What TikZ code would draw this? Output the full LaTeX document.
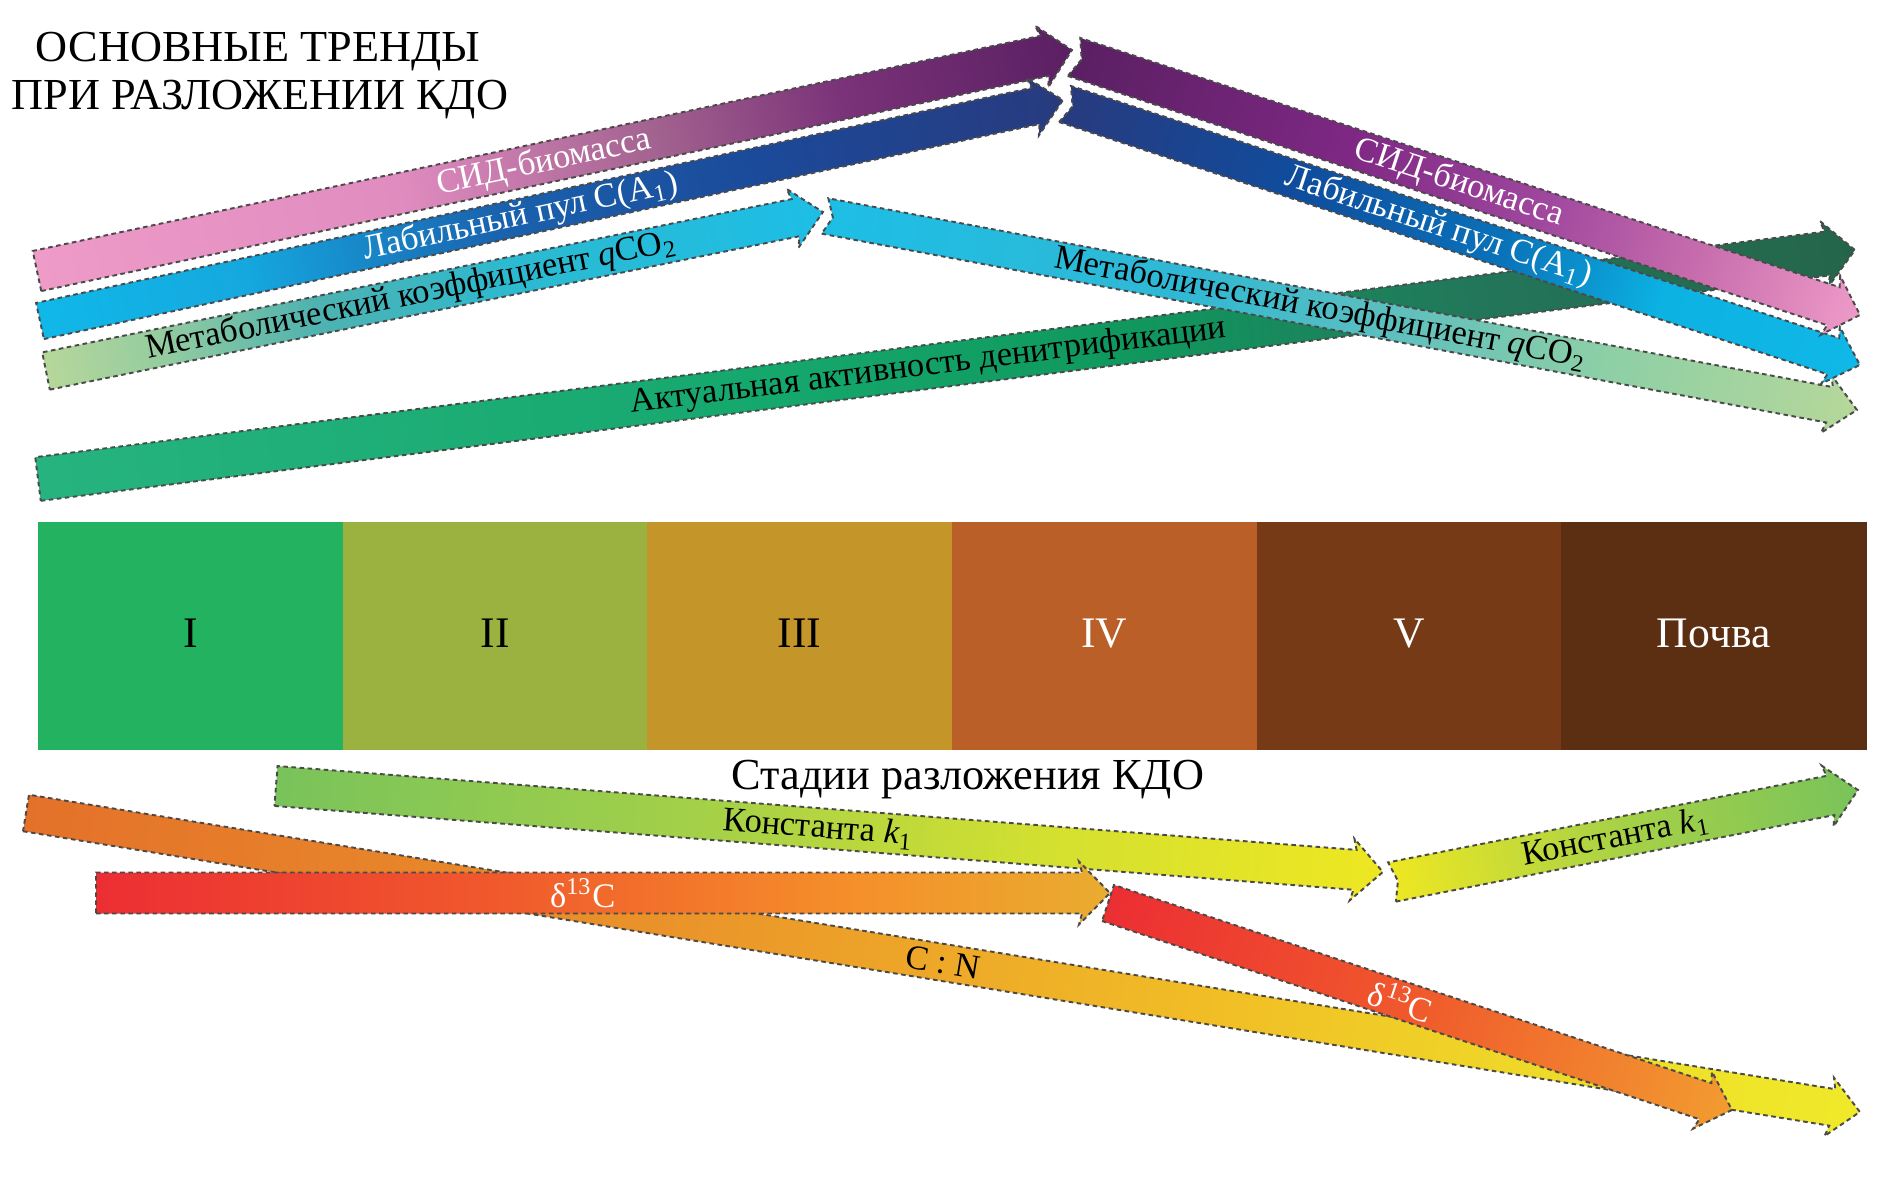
\documentclass[tikz,border=0pt]{standalone}
\usepackage{fontspec}
\setmainfont{Liberation Serif}

% stage colours
\definecolor{stageI}{HTML}{23B360}\definecolor{stageII}{HTML}{9BB241}
\definecolor{stageIII}{HTML}{C4962A}\definecolor{stageIV}{HTML}{B95F27}
\definecolor{stageV}{HTML}{763A16}\definecolor{stageSoil}{HTML}{5C2F12}
\definecolor{edgegray}{HTML}{4A4A4A}

% trend colours
\definecolor{sidA}{HTML}{EE9BC8}\definecolor{sidB}{HTML}{E08CC0}\definecolor{sidC}{HTML}{A2628F}
\definecolor{sidD}{HTML}{7A3278}\definecolor{sidE}{HTML}{5A1F62}\definecolor{sidF}{HTML}{7E2884}
\definecolor{sidG}{HTML}{A0489E}\definecolor{sidH}{HTML}{C86EAE}
\definecolor{labA}{HTML}{10B8E8}\definecolor{labB}{HTML}{15A8DF}\definecolor{labC}{HTML}{1A62AE}
\definecolor{labD}{HTML}{1B4A9A}\definecolor{labE}{HTML}{283A7E}\definecolor{labF}{HTML}{0F4D9E}
\definecolor{labG}{HTML}{0A72B9}\definecolor{labH}{HTML}{0BB2E2}
\definecolor{metA}{HTML}{B6D79A}\definecolor{metB}{HTML}{94CCA0}\definecolor{metC}{HTML}{4EB2B0}
\definecolor{metD}{HTML}{2CBAD0}\definecolor{metE}{HTML}{1DBEE6}\definecolor{metF}{HTML}{30B8D4}
\definecolor{metG}{HTML}{5EBFBE}\definecolor{metH}{HTML}{8CCFA6}
\definecolor{aktA}{HTML}{26B37F}\definecolor{aktB}{HTML}{15A86D}\definecolor{aktC}{HTML}{10985E}
\definecolor{aktD}{HTML}{23755A}\definecolor{aktE}{HTML}{24654A}
\definecolor{konA}{HTML}{79C35B}\definecolor{konB}{HTML}{A6D147}\definecolor{konC}{HTML}{D4E030}
\definecolor{konD}{HTML}{EEE722}
\definecolor{cnA}{HTML}{E4712A}\definecolor{cnB}{HTML}{EA932A}\definecolor{cnC}{HTML}{F1BE26}
\definecolor{cnD}{HTML}{EEDD28}\definecolor{cnE}{HTML}{EFEA2A}
\definecolor{delA}{HTML}{EC2E33}\definecolor{delB}{HTML}{F05A2C}\definecolor{delC}{HTML}{F5902A}
\definecolor{delD}{HTML}{E9AC30}\definecolor{delE}{HTML}{F29C30}

\pgfdeclarehorizontalshading{sidup}{100bp}{color(0bp)=(sidA); color(25bp)=(sidA); color(42.5bp)=(sidB);
  color(55bp)=(sidC); color(64bp)=(sidD); color(75bp)=(sidE); color(100bp)=(sidE)}
\pgfdeclarehorizontalshading{siddown}{100bp}{color(0bp)=(sidE); color(25bp)=(sidE); color(42.5bp)=(sidF);
  color(55bp)=(sidG); color(65bp)=(sidH); color(75bp)=(sidA); color(100bp)=(sidA)}
\pgfdeclarehorizontalshading{labup}{100bp}{color(0bp)=(labA); color(25bp)=(labA); color(35bp)=(labB);
  color(47.5bp)=(labC); color(60bp)=(labD); color(75bp)=(labE); color(100bp)=(labE)}
\pgfdeclarehorizontalshading{labdown}{100bp}{color(0bp)=(labE); color(25bp)=(labE); color(40bp)=(labF);
  color(52.5bp)=(labG); color(62.5bp)=(labH); color(75bp)=(labA); color(100bp)=(labA)}
\pgfdeclarehorizontalshading{metup}{100bp}{color(0bp)=(metA); color(25bp)=(metA); color(32.5bp)=(metB);
  color(42.5bp)=(metC); color(55bp)=(metD); color(75bp)=(metE); color(100bp)=(metE)}
\pgfdeclarehorizontalshading{metdown}{100bp}{color(0bp)=(metE); color(25bp)=(metE); color(42.5bp)=(metF);
  color(52.5bp)=(metG); color(62.5bp)=(metH); color(75bp)=(metA); color(100bp)=(metA)}
\pgfdeclarehorizontalshading{akt}{100bp}{color(0bp)=(aktA); color(25bp)=(aktA); color(45bp)=(aktB);
  color(55bp)=(aktC); color(65bp)=(aktD); color(75bp)=(aktE); color(100bp)=(aktE)}
\pgfdeclarehorizontalshading{konstdown}{100bp}{color(0bp)=(konA); color(25bp)=(konA); color(45bp)=(konB);
  color(60bp)=(konC); color(75bp)=(konD); color(100bp)=(konD)}
\pgfdeclarehorizontalshading{konstup}{100bp}{color(0bp)=(konD); color(25bp)=(konD); color(50bp)=(konB);
  color(75bp)=(konA); color(100bp)=(konA)}
\pgfdeclarehorizontalshading{cnratio}{100bp}{color(0bp)=(cnA); color(25bp)=(cnA); color(42.5bp)=(cnB);
  color(57.5bp)=(cnC); color(67.5bp)=(cnD); color(75bp)=(cnE); color(100bp)=(cnE)}
\pgfdeclarehorizontalshading{deltahor}{100bp}{color(0bp)=(delA); color(25bp)=(delA); color(45bp)=(delB);
  color(62.5bp)=(delC); color(75bp)=(delD); color(100bp)=(delD)}
\pgfdeclarehorizontalshading{deltadown}{100bp}{color(0bp)=(delA); color(25bp)=(delA); color(50bp)=(delB);
  color(75bp)=(delE); color(100bp)=(delE)}

% banded trend arrow: x1 y1 x2 y2 halfwidth shading tailnotch
\newcommand\trendarrow[7]{%
  \pgfmathsetmacro\trendang{atan2(#2-#4,#3-#1)}%
  \pgfmathsetmacro\trendlen{veclen(#3-#1,#4-#2)}%
  \begin{scope}[transform canvas={shift={(#1,#2)},rotate=\trendang}]
    \shadedraw[shading=#6,trendedge]
      (0,#5) -- (\trendlen-28,#5) -- (\trendlen-31,#5+11) -- (\trendlen,0)
      -- (\trendlen-31,-#5-11) -- (\trendlen-28,-#5) -- (0,-#5) -- (#7,0) -- cycle;
  \end{scope}}

\begin{document}
\begin{tikzpicture}[x=0.01cm,y=-0.01cm,
    trendedge/.style={draw=edgegray,line width=0.55pt,dash pattern=on 1.3pt off 1pt},
    trendlabel/.style={font=\fontsize{9.8}{12}\selectfont,inner sep=0pt,sloped},
    stagelabel/.style={font=\fontsize{12.4}{14}\selectfont,inner sep=0pt,anchor=base},
    headline/.style={font=\fontsize{12.6}{15}\selectfont,inner sep=0pt,anchor=base}]
\useasboundingbox (0,0) rectangle (1882,1179);

% title
\node[headline] (title1) at (258,62) {ОСНОВНЫЕ ТРЕНДЫ};
\node[headline] (title2) at (260,110) {ПРИ РАЗЛОЖЕНИИ КДО};

% upper trends
\trendarrow{38}{479}{1855}{250}{22}{akt}{0}
\trendarrow{37}{271}{1072}{50}{20.5}{sidup}{0}
\trendarrow{40}{321}{1063}{100}{18.5}{labup}{0}
\trendarrow{46}{371}{823}{212}{19}{metup}{0}
\trendarrow{825}{216}{1857}{410}{18}{metdown}{8}
\trendarrow{1065}{104}{1860}{365}{19}{labdown}{8}
\trendarrow{1074}{57}{1860}{315}{20}{siddown}{8}

\path (37,271) -- (1072,50) node[trendlabel,pos=0.49,text=white] (sidUp) {СИД-биомасса};
\path (40,321) -- (1063,100) node[trendlabel,pos=0.47,text=white] (labUp) {Лабильный пул C(A\textsubscript{1})};
\path (46,371) -- (823,212) node[trendlabel,pos=0.47] (metUp) {Метаболический коэффициент \textit{q}CO\textsubscript{2}};
\path (38,479) -- (1855,250) node[trendlabel,pos=0.49] (aktLab) {Актуальная активность денитрификации};
\path (1074,57) -- (1860,315) node[trendlabel,pos=0.49,text=white] (sidDown) {СИД-биомасса};
\path (1065,104) -- (1860,365) node[trendlabel,pos=0.47,text=white] (labDown) {Лабильный пул C(A\textsubscript{1})};
\path (825,216) -- (1857,410) node[trendlabel,pos=0.48] (metDown) {Метаболический коэффициент \textit{q}CO\textsubscript{2}};

% stages
\foreach \nm/\lab/\col/\tcol [count=\i from 0] in
  {stI/I/stageI/black, stII/II/stageII/black, stIII/III/stageIII/black,
   stIV/IV/stageIV/white, stV/V/stageV/white, stSoil/Почва/stageSoil/white} {
  \fill[\col] ({38+\i*304.67},522) rectangle ++(305.5,228);
  \node[stagelabel,text=\tcol] (\nm) at ({38+(\i+0.5)*304.67},647) {\lab};
}
\node[headline] (stages) at (968,789) {Стадии разложения КДО};

% lower trends
\trendarrow{276}{786}{1383}{872}{20}{konstdown}{0}
\trendarrow{1392}{882}{1858}{790}{20}{konstup}{6}
\trendarrow{26}{813}{1860}{1112}{18.5}{cnratio}{0}
\trendarrow{96}{893}{1110}{893}{20.5}{deltahor}{0}
\trendarrow{1108}{903}{1732}{1110}{19}{deltadown}{0}

\path (276,786) -- (1383,872) node[trendlabel,pos=0.49] (konstDown) {Константа \textit{k}\textsubscript{1}};
\path (1392,882) -- (1858,790) node[trendlabel,pos=0.48] (konstUp) {Константа \textit{k}\textsubscript{1}};
\path (26,813) -- (1860,1112) node[trendlabel,pos=0.5] (cnLab) {C : N};
\path (96,893) -- (1110,893) node[trendlabel,pos=0.48,text=white] (deltaHor) {δ\textsuperscript{13}C};
\path (1108,903) -- (1732,1110) node[trendlabel,pos=0.47,text=white] (deltaDown) {δ\textsuperscript{13}C};

\end{tikzpicture}
\end{document}
